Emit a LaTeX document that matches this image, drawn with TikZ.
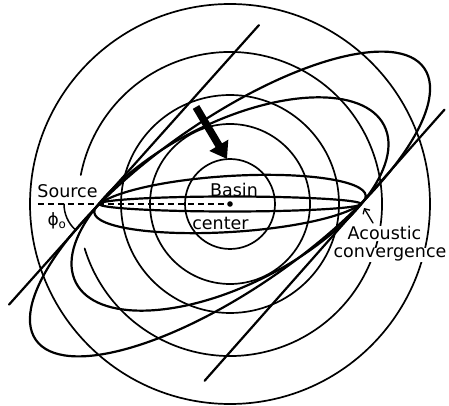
\documentclass[tikz,border=0pt]{standalone}
\usepackage{fontspec}
\setmainfont{DejaVu Sans}
\usetikzlibrary{arrows.meta, calc}

\begin{document}
\begin{tikzpicture}[x=1pt, y=1pt, >=stealth, line join=round, line cap=round,
    wave/.style={line width=1.7pt},
    ray/.style={line width=2.2pt},
    lbl/.style={font=\fontsize{17.5}{20}\selectfont, inner sep=0.5pt}]
  \useasboundingbox (-230,-202) rectangle (219,204);
  \coordinate (O) at (0,0);
  \coordinate (S) at (-131,0);
  \coordinate (C) at (131,0);
  % wavefronts round the basin center
  \draw[wave] (O) circle (45);
  \draw[wave] (O) circle (80);
  \draw[wave] (O) circle (109);
  \draw[wave] (O) ++(197:152) arc (197:529:152);
  \draw[wave] (O) circle (200);
  % rays
  \draw[ray] (O) ellipse [x radius=131, y radius=7.5];
  \draw[ray, rotate around={3.5:(O)}] (O) ellipse [x radius=136, y radius=28];
  \draw[ray, rotate around={27:(O)}] (O) ellipse [x radius=173, y radius=81];
  \draw[ray, rotate around={35:(O)}] (O) ellipse [x radius=237, y radius=84];
  \draw[ray] ($(S)+(228.2:135)$) -- ($(S)+(48.2:240)$);
  \draw[ray] ($(C)+(228.5:236)$) -- ($(C)+(48.5:126)$);
  \draw[line width=1.3pt, dash pattern=on 6pt off 4pt, line cap=butt] (-192,0) -- (O);
  \fill (O) circle (2.8);
  \draw[line width=1.5pt] (S) ++(180:35) arc (180:228:35);
  \draw[line width=7.5pt, line cap=butt, -{Triangle[width=21pt,length=16pt]}] (-34,97) -- (-3,45);
  % labels
  \node[lbl, fill=white, anchor=base] (src) at (-162.5,6) {Source};
  \node[font=\fontsize{17}{19}\selectfont, inner sep=0.5pt] (phi) at (-173,-17) {ϕ\textsubscript{o}};
  \node[lbl, anchor=base] (basin) at (4,7) {Basin};
  \node[lbl, anchor=base] (ctr) at (-9.5,-26) {center};
  \node[lbl, fill=white, anchor=base] (acou) at (154.5,-36) {Acoustic};
  \node[lbl, fill=white, anchor=base] (conv) at (160,-54) {convergence};
  \draw[line width=1.3pt, -{Straight Barb[length=4pt,width=8pt]}] (143,-19) -- (134,-4);
\end{tikzpicture}
\end{document}
